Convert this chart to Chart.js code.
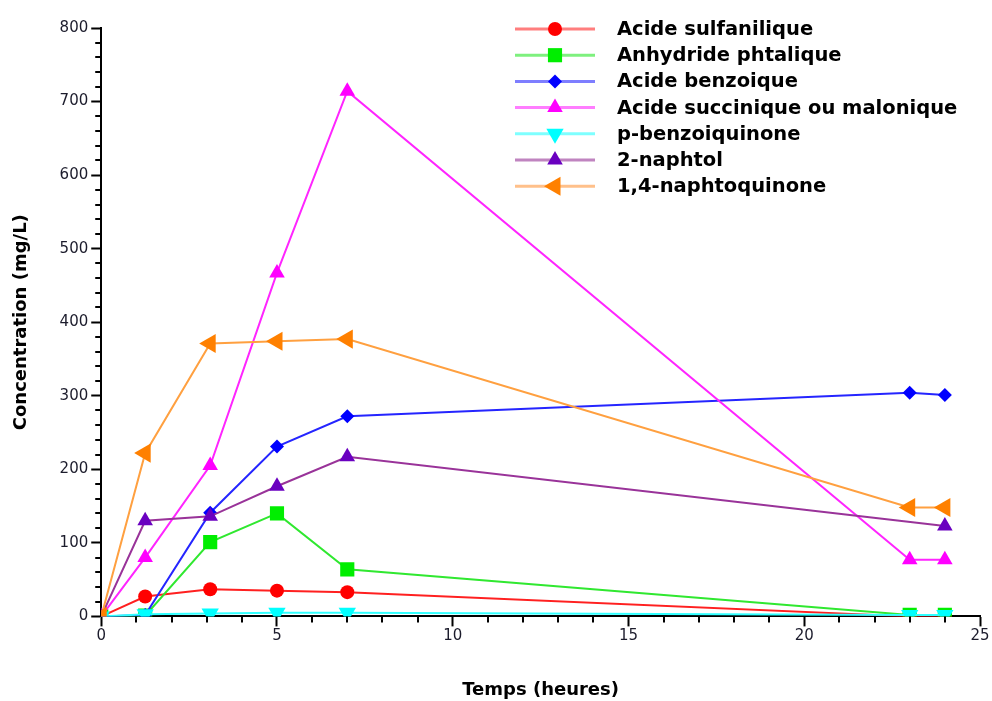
<!DOCTYPE html>
<html>
<head>
<meta charset="utf-8">
<script src="https://cdn.jsdelivr.net/npm/chart.js@4.4.0/dist/chart.umd.min.js"></script>
<style>
    html, body { margin: 0; padding: 0; background: #fff; }
</style>
</head>
<body>
<canvas id="concChart" width="992" height="701"></canvas>
<script>
// Sampling times (hours)
const hours = [0, 1.25, 3.1, 5, 7, 23, 24];

// Concentrations (mg/L), one array per compound
const sulfanilique  = [0, 27, 37, 35, 33, 0, 0];
const phtalique     = [0, 1, 101, 140, 64, 2, 2];
const benzoique     = [0, 2, 141, 231, 272, 304, 301];
const succinique    = [0, 80, 205, 467, 714, 77, 77];
const benzoquinone  = [0, 3, 4, 5, 5, 2, 2];
const naphtol       = [0, 130, 136, 177, 217, null, 123];
const naphtoquinone = [0, 222, 371, 374, 377, 148, 148];

const seriesNames = [
    'Acide sulfanilique',
    'Anhydride phtalique',
    'Acide benzoique',
    'Acide succinique ou malonique',
    'p-benzoiquinone',
    '2-naphtol',
    '1,4-naphtoquinone'
];

// Axis ticks
const xMax = 25, xStep = 5, xMinorStep = 1;
const yMax = 800, yStep = 100, yMinorStep = 20;

const FONT = '"DejaVu Sans", Verdana, sans-serif';

function toPoints(values) {
    return hours.map((h, i) => ({ x: h, y: values[i] }));
}

// Style per series
const styles = [
    { line: '#ff2020', legend: 'rgba(255,40,40,0.6)',  fill: '#ff0000', shape: 'circle',   radius: 7,  rot: 0 },
    { line: '#30e830', legend: 'rgba(40,230,40,0.6)',  fill: '#00ee00', shape: 'rect',     radius: 10, rot: 0 },
    { line: '#2525ff', legend: 'rgba(40,40,255,0.6)',  fill: '#0000ff', shape: 'rectRot',  radius: 7,  rot: 0 },
    { line: '#ff25ff', legend: 'rgba(255,40,255,0.6)', fill: '#ff00ff', shape: 'triangle', radius: 9,  rot: 0 },
    { line: '#30ffff', legend: 'rgba(40,255,255,0.6)', fill: '#00ffff', shape: 'triangle', radius: 10, rot: 180 },
    { line: '#993399', legend: 'rgba(150,50,150,0.6)', fill: '#6a00c0', shape: 'triangle', radius: 9,  rot: 0 },
    { line: '#ffa040', legend: 'rgba(255,150,60,0.6)', fill: '#ff8000', shape: 'triangle', radius: 11, rot: 270 }
];

const allValues = [sulfanilique, phtalique, benzoique, succinique, benzoquinone, naphtol, naphtoquinone];

const datasets = allValues.map((vals, i) => ({
    label: seriesNames[i],
    data: toPoints(vals),
    borderColor: styles[i].line,
    borderWidth: 2,
    tension: 0,
    fill: false,
    spanGaps: true,
    pointStyle: styles[i].shape,
    pointRadius: styles[i].radius,
    pointRotation: styles[i].rot,
    pointBackgroundColor: styles[i].fill,
    pointBorderColor: styles[i].fill,
    pointBorderWidth: 0,
    order: allValues.length - i   // later series drawn on top
}));

// Minor ticks drawn outside the axes
const minorTicks = {
    id: 'minorTicks',
    afterDraw(chart) {
        const { ctx, scales: { x, y } } = chart;
        ctx.save();
        ctx.strokeStyle = '#000';
        ctx.lineWidth = 2;
        ctx.beginPath();
        for (let v = 0; v <= xMax; v += xMinorStep) {
            if (v % xStep === 0) continue;
            const px = Math.round(x.getPixelForValue(v));
            ctx.moveTo(px, x.top);
            ctx.lineTo(px, x.top + 6);
        }
        for (let v = 0; v <= yMax; v += yMinorStep) {
            if (v % yStep === 0) continue;
            const py = Math.round(y.getPixelForValue(v));
            ctx.moveTo(y.right, py);
            ctx.lineTo(y.right - 6, py);
        }
        ctx.stroke();
        ctx.restore();
    }
};

// Legend in the top right: line + marker + bold label
const sideLegend = {
    id: 'sideLegend',
    afterDraw(chart) {
        const ctx = chart.ctx;
        chart.data.datasets.forEach((ds, i) => {
            const y = 29 + i * 26.2;
            ctx.save();
            ctx.strokeStyle = styles[i].legend;
            ctx.lineWidth = 3;
            ctx.beginPath();
            ctx.moveTo(515, y);
            ctx.lineTo(595, y);
            ctx.stroke();
            ctx.fillStyle = styles[i].fill;
            Chart.helpers.drawPoint(ctx, {
                pointStyle: ds.pointStyle,
                radius: ds.pointRadius,
                rotation: ds.pointRotation,
                borderWidth: 0
            }, 555, y);
            ctx.fillStyle = '#000';
            ctx.font = 'bold 19.5px ' + FONT;
            ctx.textBaseline = 'middle';
            ctx.fillText(ds.label, 617, y + 1);
            ctx.restore();
        });
    }
};

const axisTitleFont = { family: FONT, size: 18, weight: 'bold' };
const tickFont = { family: FONT, size: 15 };

new Chart(document.getElementById('concChart'), {
    type: 'line',
    data: { datasets },
    options: {
        responsive: false,
        animation: false,
        layout: { padding: { left: 11, right: 12, top: 28, bottom: 0 } },
        plugins: {
            legend: { display: false },
            tooltip: { enabled: false }
        },
        scales: {
            x: {
                type: 'linear',
                min: 0,
                max: xMax,
                ticks: { stepSize: xStep, color: '#1c1c2c', font: tickFont, padding: 1 },
                grid: { drawOnChartArea: false, tickLength: 10, tickWidth: 2, tickColor: '#000' },
                border: { color: '#000', width: 2 },
                title: { display: true, text: 'Temps (heures)', color: '#000', font: axisTitleFont, padding: { top: 33, bottom: 0 } }
            },
            y: {
                min: 0,
                max: yMax,
                ticks: { stepSize: yStep, color: '#1c1c2c', font: tickFont, padding: 3 },
                grid: { drawOnChartArea: false, tickLength: 10, tickWidth: 2, tickColor: '#000' },
                border: { color: '#000', width: 2 },
                title: { display: true, text: 'Concentration (mg/L)', color: '#000', font: axisTitleFont, padding: { top: 0, bottom: 24 } }
            }
        }
    },
    plugins: [minorTicks, sideLegend]
});
</script>
</body>
</html>
